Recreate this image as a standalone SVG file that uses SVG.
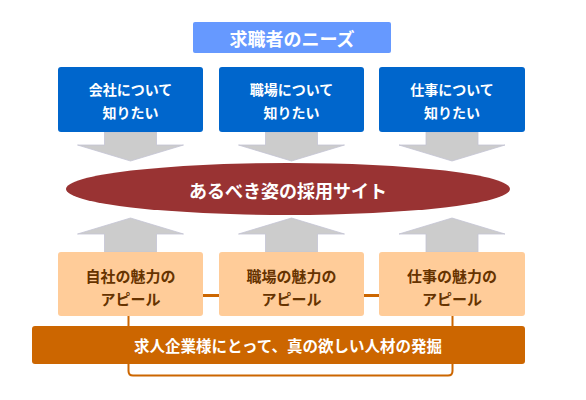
<svg xmlns="http://www.w3.org/2000/svg" width="586" height="400" viewBox="0 0 586 400">
<defs>
<style>
text{font-family:"Noto Sans CJK JP","Noto Sans CJK SC",sans-serif;font-weight:bold;text-anchor:middle;dominant-baseline:central}
.w{fill:#ffffff}
.blue{fill:#0066CC}
.peach{fill:#FFCC99}
.brown{fill:#663300}
.arrow{fill:#CCCCCC;stroke:#C4C4D4;stroke-width:0.8}
.conn{fill:none;stroke:#CC6600}
</style>
<path id="down" class="arrow" d="M-26,0 H26 V13 H53 L0,29 L-53,13 H-26 Z"/>
<path id="up" class="arrow" d="M-26,0 H26 V-18 H53 L0,-34 L-53,-18 H-26 Z"/>
</defs>
<rect width="586" height="400" fill="#ffffff"/>
<g id="connectors">
<use href="#down" x="130.5" y="132"/>
<use href="#down" x="291.5" y="132"/>
<use href="#down" x="452" y="132"/>
<use href="#up" x="130.5" y="252"/>
<use href="#up" x="291.5" y="252"/>
<use href="#up" x="452" y="252"/>
<path class="conn" stroke-width="3" d="M203,295.5 H219 M364,295.5 H379"/>
<path class="conn" stroke-width="2" d="M128.5,316 V371 Q128.5,375.5 133,375.5 H448 Q452.5,375.5 452.5,371 V316"/>
</g>
<g id="title">
<rect x="193" y="22" width="198" height="31" rx="2" fill="#6699FF"/>
<text class="w" x="292" y="38" font-size="18">求職者のニーズ</text>
</g>
<g id="need1">
<rect class="blue" x="58" y="67" width="145" height="65" rx="3"/>
<text class="w" x="130.5" y="89" font-size="14">会社について</text>
<text class="w" x="130.5" y="112" font-size="14">知りたい</text>
</g>
<g id="need2">
<rect class="blue" x="219" y="67" width="145" height="65" rx="3"/>
<text class="w" x="291.5" y="89" font-size="14">職場について</text>
<text class="w" x="291.5" y="112" font-size="14">知りたい</text>
</g>
<g id="need3">
<rect class="blue" x="379" y="67" width="146" height="65" rx="3"/>
<text class="w" x="452" y="89" font-size="14">仕事について</text>
<text class="w" x="452" y="112" font-size="14">知りたい</text>
</g>
<g id="site">
<ellipse cx="288" cy="189" rx="222" ry="26" fill="#993333"/>
<text class="w" x="288" y="190" font-size="18">あるべき姿の採用サイト</text>
</g>
<g id="appeal1">
<rect class="peach" x="58" y="252" width="145" height="64" rx="3"/>
<text class="brown" x="130.5" y="275" font-size="15">自社の魅力の</text>
<text class="brown" x="130.5" y="298" font-size="15">アピール</text>
</g>
<g id="appeal2">
<rect class="peach" x="219" y="252" width="145" height="64" rx="3"/>
<text class="brown" x="291.5" y="275" font-size="15">職場の魅力の</text>
<text class="brown" x="291.5" y="298" font-size="15">アピール</text>
</g>
<g id="appeal3">
<rect class="peach" x="379" y="252" width="146" height="64" rx="3"/>
<text class="brown" x="452" y="275" font-size="15">仕事の魅力の</text>
<text class="brown" x="452" y="298" font-size="15">アピール</text>
</g>
<g id="goal">
<rect x="32" y="326" width="493" height="38" rx="3" fill="#CC6600"/>
<text class="w" x="288" y="345" font-size="15.5">求人企業様にとって、真の欲しい人材の発掘</text>
</g>
</svg>
